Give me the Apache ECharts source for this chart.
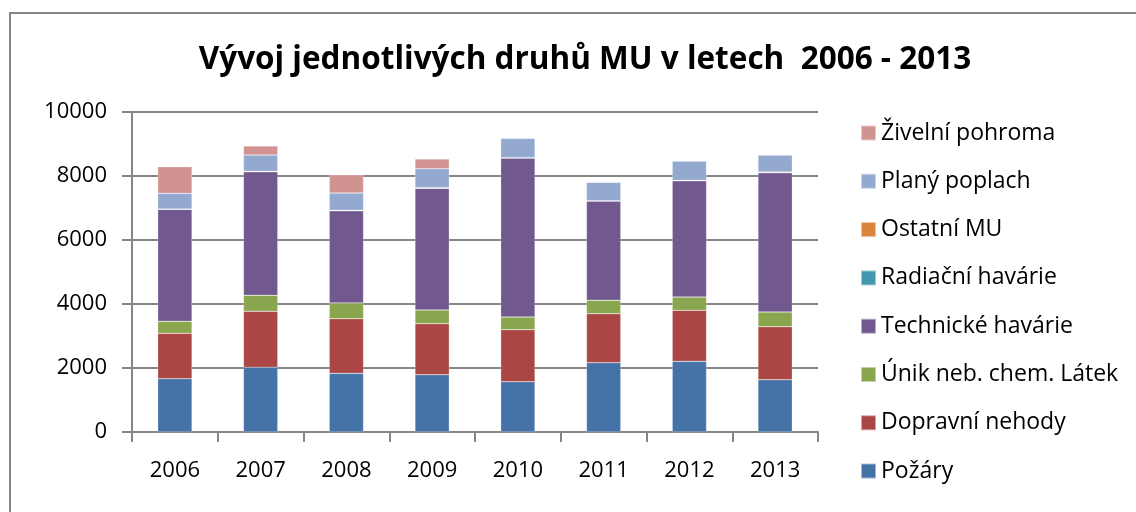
<!DOCTYPE html>
<html>
<head>
<meta charset="utf-8">
<script src="https://cdn.jsdelivr.net/npm/echarts@6/dist/echarts.min.js"></script>
<style>
  html, body { margin: 0; padding: 0; background: #fff; }
  #main { width: 1136px; height: 512px; }
</style>
</head>
<body>
<div id="main"></div>
<script>
const years = ['2006', '2007', '2008', '2009', '2010', '2011', '2012', '2013']
const pozary = [1666, 2021, 1833, 1792, 1573, 2167, 2208, 1635]
const dopravni = [1417, 1750, 1709, 1593, 1625, 1531, 1594, 1657]
const unik = [375, 500, 489, 427, 396, 417, 417, 458]
const technicke = [3500, 3864, 2886, 3803, 4969, 3104, 3635, 4354]
const radiacni = [0, 0, 0, 0, 0, 0, 0, 0]
const ostatni = [10, 10, 10, 20, 10, 10, 10, 20]
const plany = [490, 511, 541, 594, 604, 573, 604, 532]
const zivelni = [833, 281, 573, 302, 0, 0, 0, 0]
const yTicks = [0, 2000, 4000, 6000, 8000, 10000]

const font = "'Open Sans', 'Noto Sans', sans-serif"

const seriesDefs = [
  { name: 'Požáry', data: pozary, color: '#4572A7' },
  { name: 'Dopravní nehody', data: dopravni, color: '#AA4643' },
  { name: 'Únik neb. chem. Látek', data: unik, color: '#89A54E' },
  { name: 'Technické havárie', data: technicke, color: '#71588F' },
  { name: 'Radiační havárie', data: radiacni, color: '#4198AF' },
  { name: 'Ostatní MU', data: ostatni, color: '#DB843D' },
  { name: 'Planý poplach', data: plany, color: '#93A9CF' },
  { name: 'Živelní pohroma', data: zivelni, color: '#D19392' }
]

const chart = echarts.init(document.getElementById('main'))
const option = {
  animation: false,
  title: {
    text: 'Vývoj jednotlivých druhů MU v letech  2006 - 2013',
    left: 580,
    top: 39,
    textAlign: 'center',
    textStyle: { fontFamily: font, fontWeight: 'bold', fontSize: 31.5, color: '#000' }
  },
  graphic: [
    {
      type: 'rect',
      shape: { x: 10, y: 13, width: 1140, height: 520 },
      style: { fill: 'none', stroke: '#868686', lineWidth: 2 },
      silent: true
    }
  ],
  legend: {
    orient: 'vertical',
    left: 860,
    top: 121,
    padding: 0,
    itemWidth: 15,
    itemHeight: 15,
    itemGap: 24.3,
    icon: 'rect',
    data: seriesDefs.map(s => s.name).reverse(),
    textStyle: { fontFamily: font, fontSize: 23, lineHeight: 24, color: '#000' }
  },
  grid: { left: 132, right: 318, top: 112, bottom: 80 },
  xAxis: {
    type: 'category',
    data: years,
    axisLine: { lineStyle: { color: '#868686', width: 2 } },
    axisTick: { show: true, length: 10, lineStyle: { color: '#868686', width: 2 } },
    axisLabel: { fontFamily: font, fontSize: 22, color: '#000', margin: 28 }
  },
  yAxis: {
    type: 'value',
    min: 0,
    max: 10000,
    interval: 2000,
    axisLine: { show: true, lineStyle: { color: '#868686', width: 2 } },
    axisTick: { show: true, length: 10, lineStyle: { color: '#868686', width: 2 } },
    axisLabel: {
      fontFamily: font, fontSize: 22, color: '#000', margin: 25,
      formatter: v => yTicks.includes(v) ? String(v) : ''
    },
    splitLine: { lineStyle: { color: '#868686', width: 2 } }
  },
  series: seriesDefs.map(s => ({
    name: s.name,
    type: 'bar',
    stack: 'mu',
    barWidth: '40%',
    data: s.data,
    itemStyle: { color: s.color, borderColor: 'rgba(255,255,255,0.5)', borderWidth: 0.5 }
  }))
}
chart.setOption(option)
</script>
</body>
</html>
